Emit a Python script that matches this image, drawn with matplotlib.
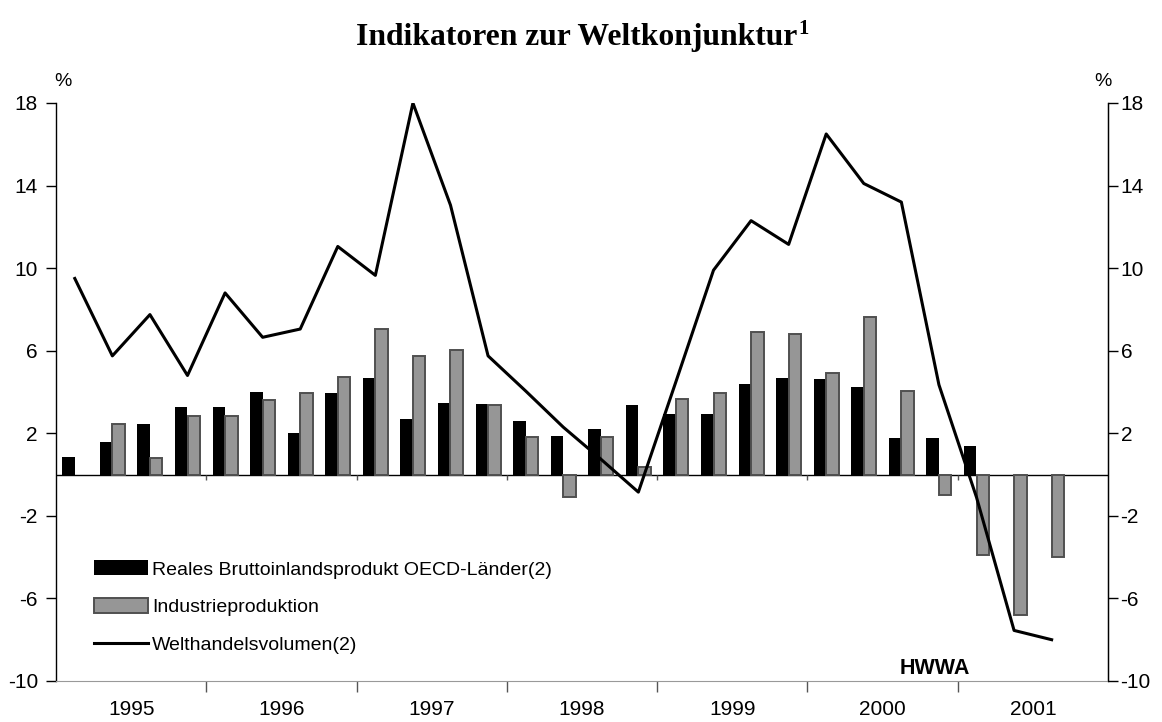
import numpy as np
import matplotlib
matplotlib.use("Agg")
import matplotlib.pyplot as plt

nan = np.nan

# quarterly values, 1995Q1 .. 2001Q4 (percent change)
years = ["1995", "1996", "1997", "1998", "1999", "2000", "2001"]
gdp = [0.85, 1.6, 2.45, 3.25, 3.25, 4.0, 2.0, 3.95, 4.7, 2.7, 3.45, 3.4,
       2.6, 1.85, 2.2, 3.35, 2.95, 2.95, 4.4, 4.7, 4.65, 4.25, 1.75, 1.75,
       1.4, nan, nan, nan]
industry = [nan, 2.45, 0.8, 2.85, 2.85, 3.6, 3.95, 4.75, 7.05, 5.75, 6.05, 3.35,
            1.8, -1.1, 1.8, 0.35, 3.65, 3.95, 6.9, 6.8, 4.9, 7.65, 4.05, -1.0,
            -3.9, -6.8, -4.0, nan]
trade = [9.5, 5.75, 7.75, 4.8, 8.8, 6.65, 7.05, 11.05, 9.65, 18.0, 13.05, 5.75,
         4.05, 2.3, 0.75, -0.85, 4.5, 9.9, 12.3, 11.15, 16.5, 14.1, 13.2, 4.35,
         -1.1, -7.55, -8.0, nan]
yticks = [-10, -6, -2, 2, 6, 10, 14, 18]

labels = ["Reales Bruttoinlandsprodukt OECD-Länder(2)",
          "Industrieproduktion",
          "Welthandelsvolumen(2)"]

SANS = "Liberation Sans"
SERIF = "Liberation Serif"

fig = plt.figure(figsize=(11.62, 7.22), dpi=100)
ax = fig.add_axes([56 / 1162, 41 / 722, 1052 / 1162, 578 / 722])

x = np.arange(len(trade))
w = 0.333
b1 = ax.bar(x - w / 2, gdp, width=w, color="black", linewidth=0, zorder=2)
b2 = ax.bar(x + w / 2, industry, width=w, color="#969696", edgecolor="#505050",
            linewidth=1.4, zorder=2)
l1, = ax.plot(x, trade, color="black", lw=2.2, zorder=3)

ax.axhline(0, color="black", lw=1.0, zorder=1)

ax.set_xlim(-0.5, len(trade) - 0.5)
ax.set_ylim(-10, 18)

# year boundaries and year labels
bounds = np.arange(4, len(trade), 4) - 0.5
ax.set_xticks(bounds)
ax.set_xticklabels([])
ax.set_xticks(np.arange(len(years)) * 4 + 1.5, minor=True)
ax.set_xticklabels(years, minor=True, fontsize=15, family=SANS)
ax.tick_params(axis="x", which="major", length=8, width=1, color="#555555", direction="out")
ax.tick_params(axis="x", which="minor", length=0, pad=14)
ax.vlines(bounds, -0.25, 0, color="#555555", lw=1, zorder=1)

ax.set_yticks(yticks)
ax.set_yticklabels([str(t) for t in yticks], fontsize=15, family=SANS)
ax.tick_params(axis="y", length=7, width=1, pad=6)

ax.spines["top"].set_visible(False)
ax.spines["bottom"].set_color("#999999")
ax.spines["left"].set_linewidth(1.0)
ax.spines["right"].set_linewidth(1.0)

ax2 = ax.twinx()
ax2.set_position(ax.get_position())
ax2.set_ylim(-10, 18)
ax2.set_yticks(yticks)
ax2.set_yticklabels([str(t) for t in yticks], fontsize=15, family=SANS)
ax2.tick_params(axis="y", length=7, width=1, pad=2)
for s in ["top", "bottom", "left"]:
    ax2.spines[s].set_visible(False)

leg = ax.legend([b1, b2, l1], labels, loc="upper left", bbox_to_anchor=(30 / 1052, 0.222),
                frameon=False, prop={"family": SANS, "size": 14}, handlelength=2.8,
                handleheight=0.8, handletextpad=0.2, labelspacing=1.0, borderaxespad=0)

fig.text(63 / 1162, 1 - 82 / 722, "%", fontsize=14, family=SANS, ha="center", va="center")
fig.text(1103 / 1162, 1 - 82 / 722, "%", fontsize=14, family=SANS, ha="center", va="center")

ax.text(935, 722 - 674, "HWWA", transform=None, fontsize=15.5, fontweight="bold",
        family=SANS, ha="center", va="baseline")

title = fig.text(577 / 1162, 1 - 45 / 722, "Indikatoren zur Weltkonjunktur", fontsize=22.8,
                 fontweight="bold", family=SERIF, ha="center", va="baseline")
fig.canvas.draw()
bb = title.get_window_extent()
fig.text(bb.x1 + 1, 722 - 19, "1", transform=None, fontsize=15, fontweight="bold",
         family=SERIF, ha="left", va="top")

fig.savefig("out.png", dpi=100)
